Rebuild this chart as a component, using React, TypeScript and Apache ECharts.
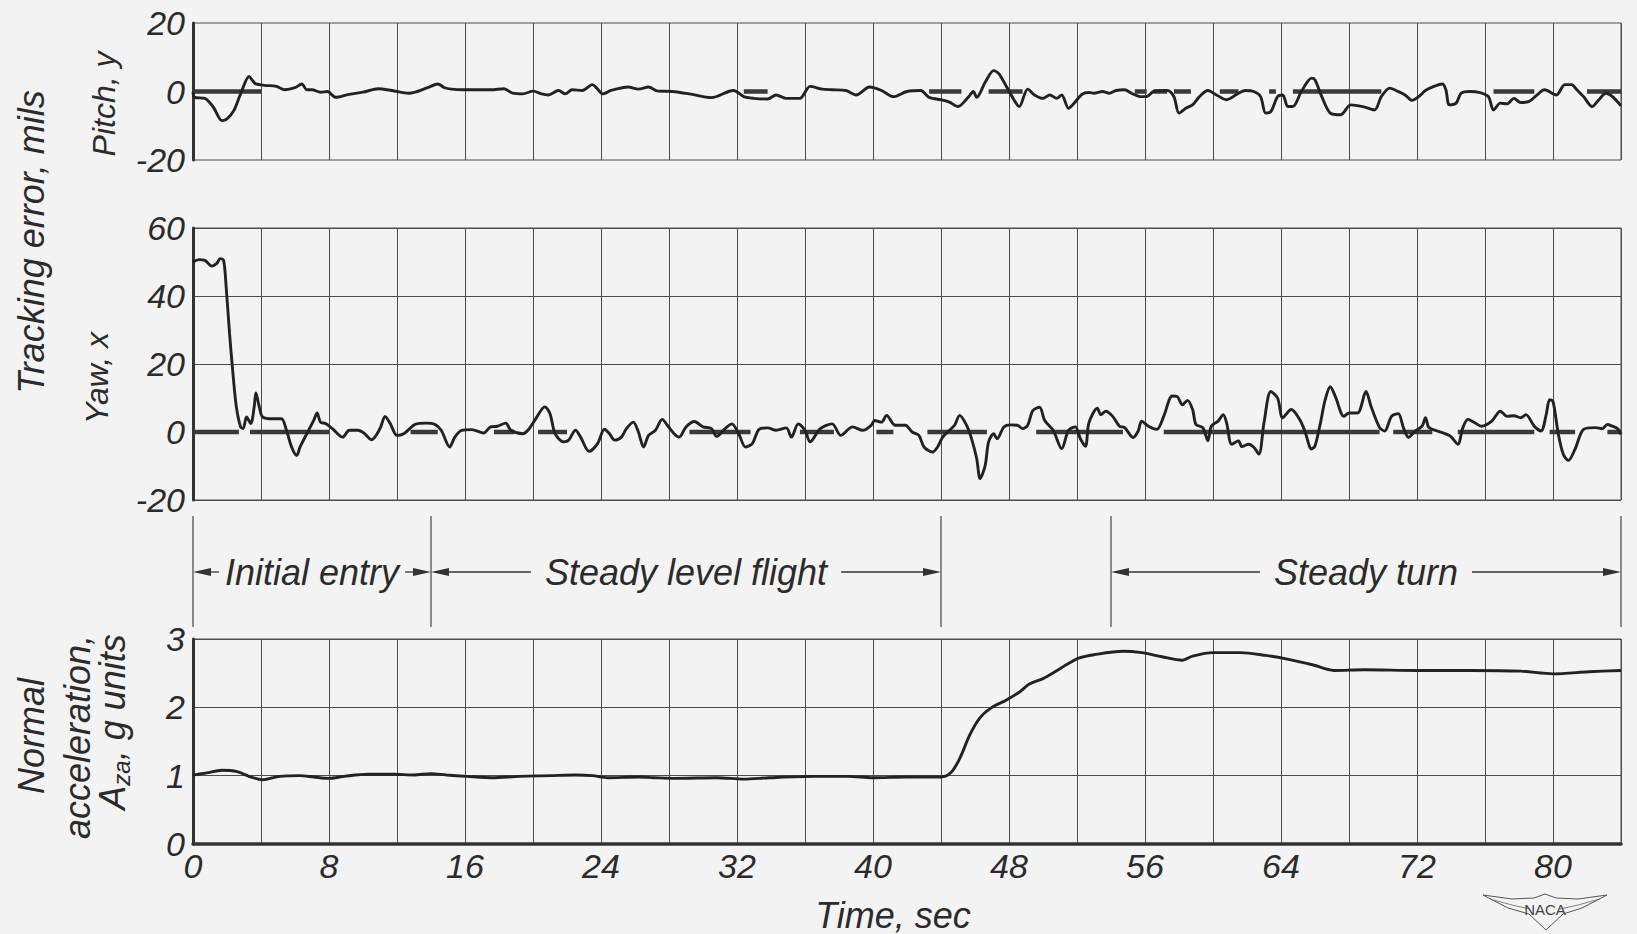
import React, { useEffect, useRef } from "react";
import * as echarts from "echarts";

const FONT = "'Liberation Sans', Arial, sans-serif";
const INK = "#2b2b2b";
const GRIDC = "#4d4d4d";

// ---- data ----
const pitchT = [0,0.1,0.7,1.2,1.7,2.0,2.4,2.8,3.3,3.5,3.7,4.2,4.9,5.4,6.0,6.4,6.7,7.0,7.5,7.9,8.4,9.1,10,10.9,11.7,12.7,13.8,14.4,14.8,15.2,15.9,17.5,18.3,18.8,19.4,20,20.5,20.9,21.5,21.9,22.3,22.9,23.5,23.75,24.1,24.6,25.6,26.2,26.8,27.3,28.2,29.2,30.5,31.5,31.8,32.4,33,33.8,34.3,34.9,35.7,36.3,37,37.6,38.4,39,39.8,40.5,41.2,42,42.8,43.3,44.1,44.5,45,45.6,45.9,46.1,46.6,47.1,47.4,47.9,48.3,48.6,49.1,49.5,50,50.4,50.8,51.1,51.5,51.8,52.3,52.7,53,53.5,53.9,54.3,54.8,55.2,55.7,56.1,56.5,57.3,57.7,58,58.4,58.8,59.2,59.7,60.2,60.8,61.5,61.9,62.4,62.8,63.1,63.4,63.8,64.1,64.4,64.7,65.2,65.8,66,66.4,66.9,67.5,68.1,68.8,69.5,69.9,70.4,70.9,71.3,71.7,72.1,72.5,73,73.5,73.7,73.9,74.3,74.6,75.1,75.7,76.2,76.5,76.9,77.3,77.7,78.1,78.6,79,79.5,80.2,80.7,81.1,81.4,81.8,82.3,82.7,83.1,83.5,84];
const pitchV = [-0.2,-1.7,-2,-4.6,-8.5,-8,-5.6,-0.7,4.4,3.2,2.2,1.8,1.5,0.5,1.1,2.2,0.5,0.5,-0.2,0,-1.7,-0.9,-0.2,0.8,0.3,-0.5,1.1,2.2,1.1,0.7,0.5,0.5,0.8,-0.5,-0.7,0.1,-0.7,-1,0.3,-0.7,0.5,0.3,2,1,-0.7,0.3,1.3,0.7,1.3,0.2,0,-0.7,-1.8,0,0.3,-1.5,-2,-2.2,-1,-2,-2,1.5,0.7,0.5,0.3,-1,1.3,0.3,-1.5,0,0.3,-1.7,-2.5,-3.1,-4.4,-1.7,0,-1.7,2.7,6.1,5.2,1,-2.5,-4.4,0.7,-1,-2,-1,-2,-1,-4.9,-3.6,-0.8,-0.3,-0.5,0,-0.5,0.3,0.5,-0.5,-1.5,-1.5,0,0.3,-1.5,-6.3,-4.9,-3.9,-1.5,0.3,-1,-2.4,-0.5,0.3,0,-1.5,-6.3,-5.9,-1.5,-1,-4.4,-4.4,0,3.9,3.4,-1.5,-6.3,-6.8,-3.9,-4.4,-5.4,-1.5,1,0,-1,-2.6,-1.5,0.3,1.5,2.2,0.5,-3.9,-3.4,-0.5,0,-0.3,-1.5,-5.4,-3.4,-3.6,-2,-3.2,-2.9,-1.3,0.5,-1,2,2,0.5,-1.5,-4.4,-2.4,-0.5,-1.5,-4.2];

const yawT = [0,0.35,0.7,1.1,1.4,1.6,1.8,1.95,2.15,2.35,2.55,2.8,2.95,3.15,3.4,3.6,3.7,3.9,4.1,4.7,5.2,5.5,5.8,6.1,6.3,6.8,7.1,7.3,7.5,7.8,8.2,8.8,9.2,9.7,10.1,10.5,11,11.3,11.6,12,12.4,13.1,13.7,14.2,14.6,15.1,15.4,15.8,16.4,17.1,17.5,17.9,18.4,18.7,19.4,19.7,20.1,20.7,21,21.3,21.8,22.1,22.5,22.8,23.3,23.8,24.2,24.5,24.8,25.2,25.5,25.9,26.2,26.5,26.8,27.2,27.6,27.9,28.3,28.6,29,29.5,30,30.5,30.8,31.3,31.7,32.1,32.5,32.9,33.3,33.8,34.3,34.9,35.2,35.6,36,36.3,36.9,37.6,38.1,38.8,39.4,39.9,40.1,40.5,40.8,41.3,41.9,42.3,42.7,43,43.5,43.8,44.1,44.5,44.8,45.1,45.5,45.8,46.1,46.3,46.6,46.8,47.1,47.3,47.7,48.1,48.5,48.8,49.1,49.4,49.8,50.1,50.6,51.1,51.5,51.9,52.2,52.5,52.7,53.2,53.4,53.7,54.1,54.5,54.8,55.3,55.6,55.8,56.2,56.7,57.1,57.6,57.9,58.2,58.5,58.8,59,59.4,59.7,59.9,60.3,60.6,60.8,61.1,61.5,61.7,62.1,62.4,62.7,63,63.4,63.8,64.1,64.6,65.1,65.4,65.8,66,66.3,66.6,66.9,67.2,67.7,68,68.5,69,69.3,69.8,70.1,70.5,70.9,71.2,71.5,71.9,72.3,72.5,72.7,73.2,73.95,74.4,74.7,75,75.4,75.8,76.4,76.9,77.3,77.7,78.1,78.4,78.9,79.3,79.6,79.8,80,80.3,80.6,80.9,81.3,81.8,82.5,82.9,83.2,83.5,83.8,84];
const yawV = [50,50.7,50.5,48.8,49.6,51,50.5,42.7,29,17.2,7.4,1.5,1,4.4,2.5,7.4,11.5,7.4,4.4,3.9,3.9,0.5,-4.4,-6.9,-4.4,0.5,3.4,5.6,2.9,2.5,1,-1.5,0.5,0.5,-0.5,-2.3,1,4.6,2.5,-1,-0.5,2.3,2.6,2.3,0.5,-4.4,-1.5,0.5,0.7,-0.3,1.5,1.7,2.6,0.5,-0.5,0.5,3.4,7.4,5.4,-0.5,-2.9,-2.4,0.5,-1.5,-5.7,-3.4,0.8,-0.5,-2.4,-1.5,1,2.9,0,-4.4,-1,0.5,3.7,2,-0.5,-1.5,1.5,3.1,1.5,1,-1.3,1,2.4,-0.5,-4.4,-3.4,0.8,1.2,0.5,1.2,-1.5,2.4,0.5,-2.9,1,2.4,-1,1.5,0.5,2,3.4,2.9,4.9,2,2,0,-1,-4.4,-5.9,-4.4,-1.5,0.5,2,4.9,2,-2,-7.8,-13.7,-9.8,-2.9,-0.5,-2,1.5,2.1,2,1,2,6.3,7.3,3.4,0.5,-4.9,0.5,1.5,-2,-4.2,2.7,7,5.1,6.1,4.6,1.7,1.3,-1.6,0.3,3.2,1.7,0.8,4.6,10.6,10.4,8,9.3,6.6,2.2,1.3,-2.6,1.7,3.2,5.1,2.7,-3.6,-2.6,-4.3,-3.6,-4.5,-6.5,2.7,11.9,10,4.2,6.6,3.7,0.3,-5,-4.1,2.2,9.5,13.3,10.4,4.6,5.6,5.6,11.9,7.5,1.3,0.3,4.6,5.4,1.3,-1.6,0.3,1.7,4.2,1.3,0.3,-1.2,-3.6,1.3,3.7,2.7,1.7,3.2,6.1,4.6,4.8,4.2,5.1,1.7,0.3,5.1,9.5,9,-0.2,-6.5,-8.4,-5,0.8,1.3,1,2.2,1.7,1,-0.7];

const accelT = [0,0.8,1.7,2.6,3.4,4.1,5.1,6.3,7.1,8,8.9,10.3,11.8,13,14,14.9,16.1,17.6,19.2,21,22.5,23.5,24.4,26.2,27.1,28.4,30.8,32.4,33.9,36.6,38.5,40,42,44,44.6,45.1,45.7,46.3,47,47.8,48.6,49.2,50,50.7,51.5,52.1,53,54.7,55.8,57,58.2,58.8,60,61.6,63.1,64.3,65.9,67.1,68.9,72,75.1,78.1,80,82.1,84];
const accelV = [1.01,1.04,1.08,1.06,0.98,0.94,0.99,1.0,0.98,0.96,0.99,1.02,1.02,1.01,1.03,1.01,0.99,0.97,0.99,1.0,1.01,1.0,0.97,0.98,0.97,0.96,0.97,0.95,0.97,0.99,0.99,0.97,0.98,0.98,1.05,1.25,1.6,1.85,2.0,2.1,2.22,2.34,2.42,2.52,2.64,2.72,2.77,2.82,2.8,2.74,2.69,2.75,2.8,2.8,2.76,2.71,2.62,2.54,2.55,2.54,2.54,2.53,2.49,2.52,2.54];

// zero-reference trace segments [start, end] in seconds
const pitchZeroSegs = [[0,4],[32.4,33.8],[43.3,45.2],[46.8,48.8],[55.4,56.1],[56.5,57.3],[57.7,58.7],[60.4,61.5],[63.3,63.7],[64.7,69.9],[76.5,78.9],[82,84]];
const yawZeroSegs = [[0,2.7],[3.35,8],[12.8,14.4],[17.7,18.9],[20.3,22],[29.2,32.8],[35.7,37.7],[40.2,41.2],[43.2,46.7],[49.6,54.7],[57.1,69.8],[70.6,72.9],[74.4,78.9],[79.8,81.3],[83.2,84]];

const timeTicks = [0, 8, 16, 24, 32, 40, 48, 56, 64, 72, 80];
const phaseBounds = [0, 14, 44, 54, 84];
const phases = [
  { label: "Initial entry", from: 0, to: 14 },
  { label: "Steady level flight", from: 14, to: 44 },
  { label: "Steady turn", from: 54, to: 84 },
];

function pairs(t: number[], v: number[]) {
  return t.map((x, i) => [x, v[i]]);
}
function segData(s: number[][]) {
  const out: any[] = [];
  s.forEach(([a, b], i) => {
    if (i > 0) out.push([a, "-"]);
    out.push([a, 0], [b, 0]);
  });
  return out;
}

const tickLabel = { fontFamily: FONT, fontStyle: "italic", fontSize: 34, color: INK };

export default function App() {
  const ref = useRef<HTMLDivElement>(null);
  useEffect(() => {
    const chart = echarts.init(ref.current!, null, { renderer: "svg" });
    const grids = [
      { left: 193, right: 16, top: 23, height: 137 },
      { left: 193, right: 16, top: 228, height: 272 },
      { left: 193, right: 16, top: 639, height: 205 },
    ].map((g) => ({ ...g, show: true, borderColor: GRIDC, borderWidth: 1, backgroundColor: "transparent" }));

    const xAxes = [0, 1, 2].map((i) => ({
      type: "value",
      gridIndex: i,
      min: 0,
      max: 84,
      interval: 4,
      axisLine: i === 2 ? { show: true, lineStyle: { color: "#333", width: 3.5 } } : { show: false },
      axisTick: { show: false },
      splitLine: { show: true, lineStyle: { color: GRIDC, width: 1 } },
      axisLabel:
        i === 2
          ? { ...tickLabel, margin: 5, formatter: (v: number) => (timeTicks.includes(v) ? String(v) : "") }
          : { show: false },
    }));

    const yBase = (i: number) => ({
      type: "value",
      gridIndex: i,
      axisLine: { show: true, onZero: false, lineStyle: { color: "#333", width: 3 } },
      axisTick: { show: false },
      axisLabel: { ...tickLabel, margin: 8 },
    });
    const yAxes = [
      { ...yBase(0), min: -20, max: 20, interval: 20, splitLine: { show: false } },
      {
        ...yBase(1), min: -20, max: 60, interval: 20,
        splitLine: { show: true, lineStyle: { color: [GRIDC, "rgba(0,0,0,0)", GRIDC, GRIDC, GRIDC], width: 1 } },
      },
      { ...yBase(2), min: 0, max: 3, interval: 1, splitLine: { show: true, lineStyle: { color: GRIDC, width: 1 } } },
    ];

    const trace = (i: number, data: any[]) => ({
      type: "line", xAxisIndex: i, yAxisIndex: i, data, showSymbol: false, smooth: 0.3,
      lineStyle: { color: "#222", width: 2.9 }, silent: true, z: 3,
    });
    const zero = (i: number, data: any[]) => ({
      type: "line", xAxisIndex: i, yAxisIndex: i, data, showSymbol: false, connectNulls: false,
      lineStyle: { color: "#3a3a3a", width: 4.5 }, silent: true, z: 2,
    });

    chart.setOption({
      animation: false,
      backgroundColor: "#f4f3f3",
      grid: grids,
      xAxis: xAxes,
      yAxis: yAxes,
      series: [
        zero(0, segData(pitchZeroSegs)),
        trace(0, pairs(pitchT, pitchV)),
        zero(1, segData(yawZeroSegs)),
        trace(1, pairs(yawT, yawV)),
        trace(2, pairs(accelT, accelV)),
      ],
    });

    const px = (t: number) => chart.convertToPixel({ xAxisIndex: 2 }, t) as number;
    const ctx = document.createElement("canvas").getContext("2d")!;
    const measure = (s: string, size: number) => {
      ctx.font = `italic ${size}px ${FONT}`;
      return ctx.measureText(s).width;
    };
    const annFont = 36;
    const tStyle = (text: string, size: number, align = "center") => ({
      text, fontFamily: FONT, fontStyle: "italic", fontSize: size, fill: INK,
      align, verticalAlign: "middle",
    });
    const g: any[] = [];
    const ay = 572;
    phaseBounds.forEach((t) => {
      g.push({ type: "line", shape: { x1: px(t), y1: 516, x2: px(t), y2: 627 }, style: { stroke: "#444", lineWidth: 1.2 } });
    });
    const arrow = (from: number, to: number) => {
      const dir = to > from ? 1 : -1;
      g.push({ type: "line", shape: { x1: from, y1: ay, x2: to - dir * 10, y2: ay }, style: { stroke: "#333", lineWidth: 1.3 } });
      g.push({ type: "polygon", shape: { points: [[to, ay], [to - dir * 18, ay - 4], [to - dir * 18, ay + 4]] }, style: { fill: "#333" } });
    };
    phases.forEach((p, idx) => {
      const a = px(p.from), b = px(p.to);
      const c = (a + b) / 2;
      const w = measure(p.label, annFont);
      g.push({ type: "text", x: c, y: ay, style: tStyle(p.label, annFont) });
      const gap = idx === 0 ? 6 : 14;
      arrow(c - w / 2 - gap, a);
      arrow(c + w / 2 + gap, b);
    });
    const rot = (text: string, x: number, y: number, size = 36) => ({
      type: "text", x, y, rotation: Math.PI / 2, style: tStyle(text, size),
    });
    g.push(rot("Tracking error, mils", 31, 242));
    g.push(rot("Pitch, y", 104, 104, 32));
    g.push(rot("Yaw, x", 97, 378, 32));
    g.push(rot("Normal", 31, 736));
    g.push(rot("acceleration,", 77, 737));
    // A with subscript za, g units (rotated group)
    const wA = measure("A", 36), wS = measure("za", 24), wR = measure(", g units", 36);
    const x0 = -(wA + wS + wR) / 2;
    g.push({
      type: "group", x: 112, y: 722, rotation: Math.PI / 2,
      children: [
        { type: "text", x: x0, y: 0, style: tStyle("A", 36, "left") },
        { type: "text", x: x0 + wA, y: 9, style: tStyle("za", 24, "left") },
        { type: "text", x: x0 + wA + wS, y: 0, style: tStyle(", g units", 36, "left") },
      ],
    });
    g.push({ type: "text", x: 893, y: 915, style: tStyle("Time, sec", 36) });
    // NACA emblem
    g.push({
      type: "polygon",
      shape: { points: [[1483, 895], [1512, 899], [1534, 898], [1545, 894], [1556, 898], [1578, 899], [1607, 895], [1582, 908], [1563, 914], [1546, 930], [1529, 914], [1508, 908]] },
      style: { fill: "none", stroke: "#555", lineWidth: 1 },
    });
    g.push({ type: "polyline", shape: { points: [[1490, 899], [1512, 905], [1530, 909]] }, style: { stroke: "#666", lineWidth: 0.8, fill: "none" } });
    g.push({ type: "polyline", shape: { points: [[1600, 899], [1578, 905], [1560, 909]] }, style: { stroke: "#666", lineWidth: 0.8, fill: "none" } });
    g.push({ type: "text", x: 1545, y: 909, style: { text: "NACA", fontFamily: FONT, fontSize: 15, fill: "#444", align: "center", verticalAlign: "middle" } });

    chart.setOption({ graphic: g });
    return () => chart.dispose();
  }, []);
  return <div ref={ref} style={{ position: "fixed", left: 0, top: 0, width: 1637, height: 934 }} />;
}
